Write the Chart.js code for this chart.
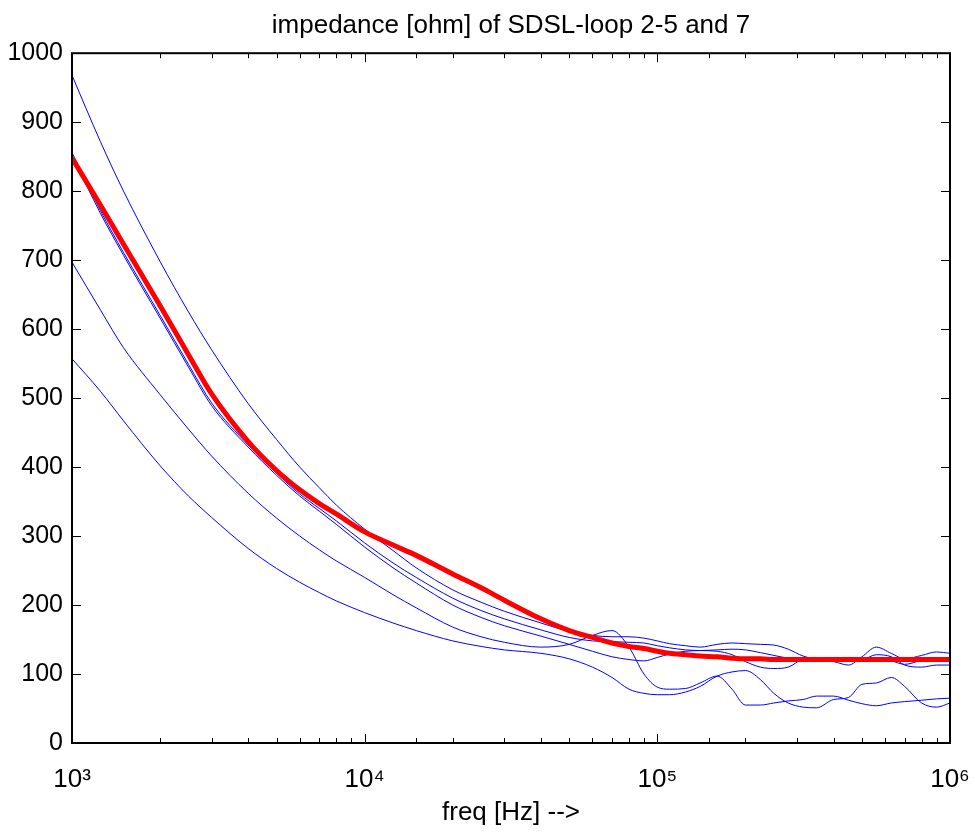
<!DOCTYPE html>
<html><head><meta charset="utf-8">
<script src="https://cdn.jsdelivr.net/npm/chart.js@4.4.0/dist/chart.umd.min.js"></script>
<style>html,body{margin:0;padding:0;background:#fff;}</style>
</head><body>
<canvas id="c" width="975" height="832"></canvas>
<script>
const chartTitle = 'impedance [ohm] of SDSL-loop 2-5 and 7';
const xAxisTitle = 'freq [Hz] -->';
const xTickLabels = {1000: '10\u00B3', 10000: '10\u2074', 100000: '10\u2075', 1000000: '10\u2076'};
const yTickValues = [0, 100, 200, 300, 400, 500, 600, 700, 800, 900, 1000];

const freqHz = [1000,1250,1500,2000,2500,3000,4000,5000,6000,7000,8000,10000,12500,15000,20000,25000,30000,40000,50000,60000,70000,80000,90000,100000,110000,125000,140000,160000,180000,200000,225000,250000,280000,315000,350000,400000,450000,500000,560000,630000,700000,800000,900000,1000000];

const loop2 = [968,872,800,698,625,570,492,440,400,370,345,310,279,254,222,204,191,174,162,156,154,154,152,148,144,141,139,143,145,144,143,142,136,126,121,118,113,125,139,130,122,127,132,130];
const loop3 = [856,772,711,620,549,493,432,391,361,340,322,290,261,240,210,192,180,164,153,148,147,146,145,141,138,135,134,133,128,118,110,108,110,122,124,121,121,121,128,125,113,110,113,113];
const loop4 = [852,768,707,616,545,489,429,388,358,336,317,284,254,232,200,182,170,155,143,133,125,121,119,124,129,133,134,135,136,135,131,127,123,121,120,119,119,120,121,119,114,120,124,122];
const loop5 = [697,628,573,505,455,416,362,326,300,280,264,240,215,196,168,154,146,139,143,156,163,139,100,81,78,79,87,97,78,55,55,58,61,63,68,68,62,57,54,58,60,62,64,65];
const loop7 = [557,510,467,402,358,327,282,253,233,218,206,189,174,163,148,140,135,130,122,110,95,78,72,70,70,74,82,97,103,105,92,72,58,52,51,63,66,85,87,95,82,58,52,58];
const fitted = [848,780,723,634,563,506,437,395,367,347,332,306,287,272,245,225,207,180,163,153,145,140,137,133,130,128,126,125,123,122,122,121,121,121,121,121,121,121,121,121,121,121,121,121];

const FONT = "'Liberation Sans', Arial, Helvetica, sans-serif";
const pts = arr => freqHz.map((f, i) => ({x: f, y: arr[i]}));
const line = (label, arr, color, width) => ({label, data: pts(arr), borderColor: color, borderWidth: width,
  pointRadius: 0, cubicInterpolationMode: 'monotone', fill: false});

const datasets = [
  line('fit', fitted, '#ff0000', 5),
  line('loop 2', loop2, '#0000ff', 1),
  line('loop 3', loop3, '#0000ff', 1),
  line('loop 4', loop4, '#0000ff', 1),
  line('loop 5', loop5, '#0000ff', 1),
  line('loop 7', loop7, '#0000ff', 1)
];

const frame = {
  id: 'frame',
  afterDatasetsDraw(chart) {
    const {ctx, chartArea: a, scales: {x, y}} = chart;
    ctx.save();
    ctx.strokeStyle = '#000';
    ctx.lineWidth = 1;
    ctx.beginPath();
    x.ticks.forEach(t => {
      const p = Math.round(x.getPixelForValue(t.value)) + 0.5;
      const e = Math.log10(t.value);
      const len = Math.abs(e - Math.round(e)) < 1e-9 ? 9 : 5;
      ctx.moveTo(p, a.bottom); ctx.lineTo(p, a.bottom - len);
      ctx.moveTo(p, a.top); ctx.lineTo(p, a.top + len);
    });
    y.ticks.forEach(t => {
      const p = Math.round(y.getPixelForValue(t.value)) + 0.5;
      ctx.moveTo(a.left, p); ctx.lineTo(a.left + 9, p);
      ctx.moveTo(a.right, p); ctx.lineTo(a.right - 9, p);
    });
    ctx.stroke();
    ctx.lineWidth = 2;
    ctx.strokeRect(a.left, a.top, a.right - a.left, a.bottom - a.top);
    ctx.restore();
  }
};

new Chart(document.getElementById('c'), {
  type: 'line',
  data: {datasets},
  plugins: [frame],
  options: {
    responsive: false, animation: false, devicePixelRatio: 1,
    layout: {padding: {top: 0, right: 25, bottom: 0, left: 0}},
    plugins: {
      legend: {display: false}, tooltip: {enabled: false},
      title: {display: true, fullSize: false, text: chartTitle, color: '#000', font: {family: FONT, size: 26, weight: 'normal'}, padding: {top: 10, bottom: 12}}
    },
    scales: {
      x: {
        type: 'logarithmic', min: 1000, max: 1000000,
        afterFit(s) { s.height = 89; s.paddingLeft = 0; s.paddingRight = 0; },
        grid: {display: false, drawTicks: false}, border: {display: false},
        ticks: {autoSkip: false, maxRotation: 0, color: '#000', padding: 21, font: {family: FONT, size: 26},
          callback: v => xTickLabels[v] || ''},
        title: {display: true, text: xAxisTitle, color: '#000', font: {family: FONT, size: 26}, padding: {top: 0, bottom: 4}}
      },
      y: {
        min: 0, max: 1000,
        afterFit(s) { s.width = 72; s.paddingTop = 0; s.paddingBottom = 0; },
        afterBuildTicks(s) { s.ticks = yTickValues.map(v => ({value: v})); },
        grid: {display: false, drawTicks: false}, border: {display: false},
        ticks: {color: '#000', padding: 9, font: {family: FONT, size: 25}, callback: v => String(v)}
      }
    }
  }
});
</script>
</body></html>
